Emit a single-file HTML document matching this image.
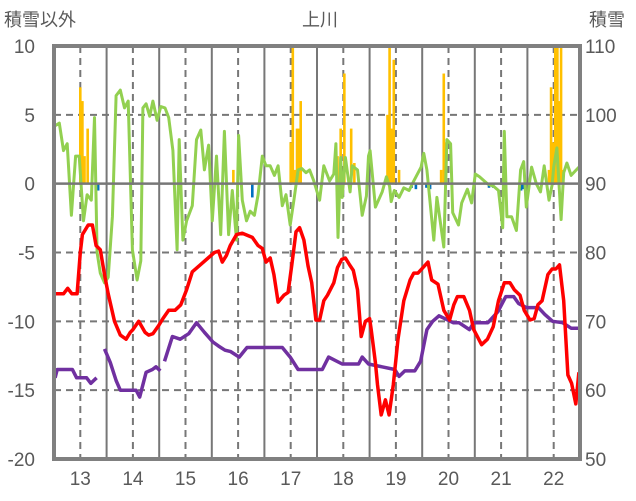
<!DOCTYPE html>
<html><head><meta charset="utf-8"><style>
body{margin:0;background:#fff;}
svg{display:block;font-family:"Liberation Sans","Noto Sans CJK JP",sans-serif;}
</style></head><body>
<svg id="chart" width="636" height="501" viewBox="0 0 636 501" xmlns="http://www.w3.org/2000/svg">
<rect width="636" height="501" fill="#fff"/>
<text x="320" y="26" font-size="18" fill="#595959" text-anchor="middle">上川</text>
<text x="4" y="26" font-size="18" fill="#595959">積雪以外</text>
<text x="589" y="26" font-size="18" fill="#595959">積雪</text>
<g id="grid"></g><g id="bars"></g><g id="lines"></g><g id="axes"></g>
</svg>
<script>
const xTicks=[13,14,15,16,17,18,19,20,21,22];
const leftTicks=[10,5,0,-5,-10,-15,-20];
const rightTicks=[110,100,90,80,70,60,50];
// x positions in days
const redX=[12.52,12.68,12.76,12.84,12.94,13.0,13.04,13.15,13.23,13.3,13.38,13.46,13.53,13.65,13.76,13.87,13.95,14.0,14.11,14.23,14.3,14.38,14.49,14.57,14.68,14.8,14.91,15.02,15.13,15.28,15.43,15.55,15.63,15.7,15.78,15.85,15.97,16.08,16.27,16.38,16.46,16.53,16.61,16.68,16.76,16.87,16.95,17.02,17.1,17.17,17.25,17.33,17.4,17.48,17.55,17.63,17.7,17.82,17.89,17.97,18.04,18.12,18.19,18.27,18.34,18.42,18.5,18.53,18.61,18.65,18.72,18.8,18.87,18.95,19.04,19.15,19.27,19.34,19.42,19.49,19.61,19.68,19.8,19.91,20.02,20.1,20.17,20.29,20.4,20.48,20.63,20.74,20.85,20.95,21.06,21.17,21.25,21.36,21.44,21.55,21.63,21.7,21.78,21.89,21.97,22.04,22.11,22.19,22.27,22.34,22.42,22.48];
const redY=[-8,-8,-7.6,-8,-8,-5,-3.7,-3,-3,-4.5,-4.8,-6.6,-8,-10,-11,-11.3,-10.8,-10.6,-10,-10.8,-11,-10.9,-10.3,-9.8,-9.2,-9.2,-8.8,-7.7,-6.4,-5.9,-5.4,-5,-4.9,-5.7,-5.2,-4.5,-3.7,-3.6,-3.9,-4.5,-4.7,-5.7,-5.4,-6.6,-8.6,-8.1,-7.9,-5.9,-3.5,-3.2,-4.1,-6,-7.2,-9.9,-9.9,-8.5,-8.1,-7.2,-6.1,-5.5,-5.4,-5.9,-6.3,-7.7,-11.1,-10,-9.8,-10.6,-13,-14.6,-16.8,-15.7,-16.8,-14.6,-11.3,-8.5,-7,-6.5,-6.5,-6.2,-5.7,-7,-7.3,-9.2,-9.9,-8.8,-8.2,-8.2,-9.2,-10.6,-11.7,-11.3,-10.4,-8.5,-7.2,-7.2,-7.7,-8.1,-9.2,-9.9,-9.8,-8.8,-8.5,-6.6,-6.2,-6.2,-5.9,-8.5,-13.9,-14.5,-16,-13.7];
const purpleX=[12.52,12.56,12.85,12.93,13.12,13.2,13.31,NaN,13.46,13.57,13.68,13.76,14.06,14.13,14.25,14.37,14.44,14.52,NaN,14.6,14.75,14.9,15.06,15.21,15.36,15.52,15.63,15.75,15.86,16.02,16.17,16.36,16.84,16.99,17.14,17.6,17.72,17.98,18.29,18.36,18.48,18.98,19.06,19.17,19.36,19.47,19.59,19.7,19.82,20.09,20.2,20.4,20.48,20.75,20.94,21.09,21.24,21.33,21.48,21.71,21.83,21.98,22.17,22.33,22.48];
const purpleY=[-14.1,-13.5,-13.5,-14.1,-14.1,-14.5,-14.1,NaN,-12,-13,-14.3,-15,-15,-15.5,-13.7,-13.5,-13.3,-13.6,NaN,-12.9,-11.1,-11.3,-10.9,-10.1,-10.8,-11.5,-11.8,-12.1,-12.2,-12.6,-11.9,-11.9,-11.9,-12.6,-13.5,-13.5,-12.6,-13.1,-13.1,-12.6,-13.1,-13.5,-14,-13.6,-13.6,-12.9,-10.6,-10,-9.6,-10.1,-10.1,-10.6,-10.1,-10.1,-9.3,-8.2,-8.2,-8.7,-9,-9,-9.5,-10,-10.1,-10.5,-10.5];
const greenX=[12.52,12.6,12.68,12.75,12.83,12.91,12.98,13.06,13.13,13.21,13.27,13.32,13.38,13.46,13.53,13.61,13.68,13.76,13.84,13.91,13.99,14.08,14.15,14.19,14.25,14.32,14.38,14.46,14.53,14.61,14.68,14.76,14.84,14.88,14.95,15.02,15.13,15.21,15.29,15.36,15.44,15.51,15.59,15.67,15.74,15.82,15.89,15.97,16.01,16.08,16.16,16.23,16.31,16.38,16.46,16.53,16.61,16.69,16.76,16.84,16.91,16.99,17.06,17.14,17.21,17.29,17.36,17.44,17.55,17.63,17.74,17.82,17.86,17.9,17.95,17.98,18.04,18.13,18.17,18.27,18.36,18.44,18.48,18.51,18.61,18.74,18.82,18.88,18.91,18.97,19.06,19.15,19.25,19.34,19.48,19.53,19.59,19.72,19.78,19.91,19.97,20.04,20.08,20.19,20.25,20.36,20.44,20.51,20.59,20.74,20.86,20.95,21.03,21.06,21.11,21.2,21.29,21.37,21.43,21.48,21.58,21.67,21.75,21.82,21.91,21.97,22.0,22.06,22.14,22.19,22.25,22.33,22.48];
const greenY=[4.2,4.4,2.4,2.9,-2.3,2,2,-2.7,-0.8,-1.2,4.8,-5,-6.5,-7.2,-6.8,-2.4,6.4,6.8,5.5,6,-4.8,-7,-5.6,5.5,5.8,4.9,6,4.6,5.6,5.5,4.8,2.4,-4.8,3.2,-4.1,-2.7,-1.6,3.2,3.9,1,2.8,-2.7,2,-3.7,3.8,-3.7,-0.5,-4.1,3.5,-1.2,-2.7,-2,-2.3,-0.8,2,1.3,1.3,0.6,1.3,-1.6,-0.8,-3,-1.2,1,1.1,0.8,1,0.2,-1.2,1.3,0.2,0.7,2.9,-3.9,1.9,-1,1.9,-0.6,1.3,1,-2.3,-0.9,2,2.4,-1.7,-0.6,0.5,-0.2,-1.3,-0.5,-1,-0.3,-0.5,0.2,1.2,2.2,1,-4.1,-1,-4.6,3.2,2.9,-2.1,-3,-1.4,-0.4,-1.4,0.7,0.5,0,-0.2,-0.5,-3.2,3.8,-2.4,-2.4,-3.4,1,1.6,-1.7,1.2,0,-0.6,1.3,-1.2,-0.1,1.2,2.6,-2.6,0.8,1.5,0.6,1.2],
snowX=[13.0,13.04,13.08,13.14,15.91,17.0,17.04,17.08,17.12,17.15,17.19,17.89,17.95,18.02,18.15,18.21,18.84,18.88,18.92,18.96,19.06,19.86,19.91,19.95,21.91,21.95,21.99,22.03,22.07,22.1,22.14,22.18];
const snowV=[7,6,2,4,1,3,10,1,4,4,6,2,4,8,4,1.5,5,10,4,9,1,1,8,3,1,7,3,10,10,6,10,1];
const meltX=[13.3,13.34,16.27,19.3,19.38,19.58,19.65,20.77,20.85,21.06,21.38,21.42];
const meltV=[-0.5,-0.5,-1,-0.3,-0.4,-0.3,-0.4,-0.3,-0.3,-0.3,-0.5,-0.4];
const L=54,R=580,T=46,B=459;
const xs=d=>L+(d-12.5)/10*(R-L);
const yl=v=>T+(10-v)/30*(B-T);
const NS="http://www.w3.org/2000/svg";
function mk(tag,parent,attrs){const e=document.createElementNS(NS,tag);for(const k in attrs)e.setAttribute(k,attrs[k]);parent.appendChild(e);return e;}
const grid=document.getElementById('grid'),bars=document.getElementById('bars'),lines=document.getElementById('lines'),axes=document.getElementById('axes');
for(let d=13;d<=22;d++){const g=mk('line',grid,{x1:xs(d),x2:xs(d),y1:T,y2:B,stroke:'#777','stroke-width':2,'stroke-dasharray':'7,5'});

if(d<22){const s=mk('line',grid,{x1:xs(d+0.5),x2:xs(d+0.5),y1:T,y2:B,stroke:'#777','stroke-width':2});
}}
leftTicks.forEach((v,i)=>{if(v!==10&&v!==-20&&v!==0){const g=mk('line',grid,{x1:L,x2:R,y1:yl(v),y2:yl(v),stroke:'#777','stroke-width':2,'stroke-dasharray':'7,5'});
}
const t=mk('text',axes,{x:35,y:yl(v)+7,'font-size':19,fill:'#595959','text-anchor':'end'});t.textContent=v;

const r=mk('text',axes,{x:585,y:yl(v)+7,'font-size':19,fill:'#595959'});r.textContent=rightTicks[i];
});
xTicks.forEach(d=>{const t=mk('text',axes,{x:xs(d),y:485,'font-size':19,fill:'#595959','text-anchor':'middle'});t.textContent=d;
});
snowX.forEach((d,i)=>{const b=mk('rect',bars,{x:xs(d)-1.3,width:2.6,y:yl(snowV[i]),height:yl(0)-yl(snowV[i]),fill:'#FFC000'});
});
meltX.forEach((d,i)=>{const b=mk('rect',bars,{x:xs(d)-1.3,width:2.6,y:yl(0),height:yl(meltV[i])-yl(0),fill:'#0070C0'});
});
const z=mk('line',axes,{x1:L,x2:R,y1:yl(0),y2:yl(0),stroke:'#777','stroke-width':2.5});

function path(X,Y){let d='',pen=false;X.forEach((x,i)=>{if(isNaN(x)){pen=false;return;}d+=(pen?'L':'M')+xs(x).toFixed(1)+','+yl(Y[i]).toFixed(1);pen=true;});return d;}
const g1=mk('path',lines,{d:path(greenX,greenY),fill:'none',stroke:'#92D050','stroke-width':3,'stroke-linejoin':'round'});

const p1=mk('path',lines,{d:path(purpleX,purpleY),fill:'none',stroke:'#7030A0','stroke-width':3.5,'stroke-linejoin':'round'});

const r1=mk('path',lines,{d:path(redX,redY),fill:'none',stroke:'#FF0000','stroke-width':3.5,'stroke-linejoin':'round'});

const fr=mk('rect',axes,{x:L,y:T,width:R-L,height:B-T,fill:'none',stroke:'#808080','stroke-width':4});

</script>
</body></html>
